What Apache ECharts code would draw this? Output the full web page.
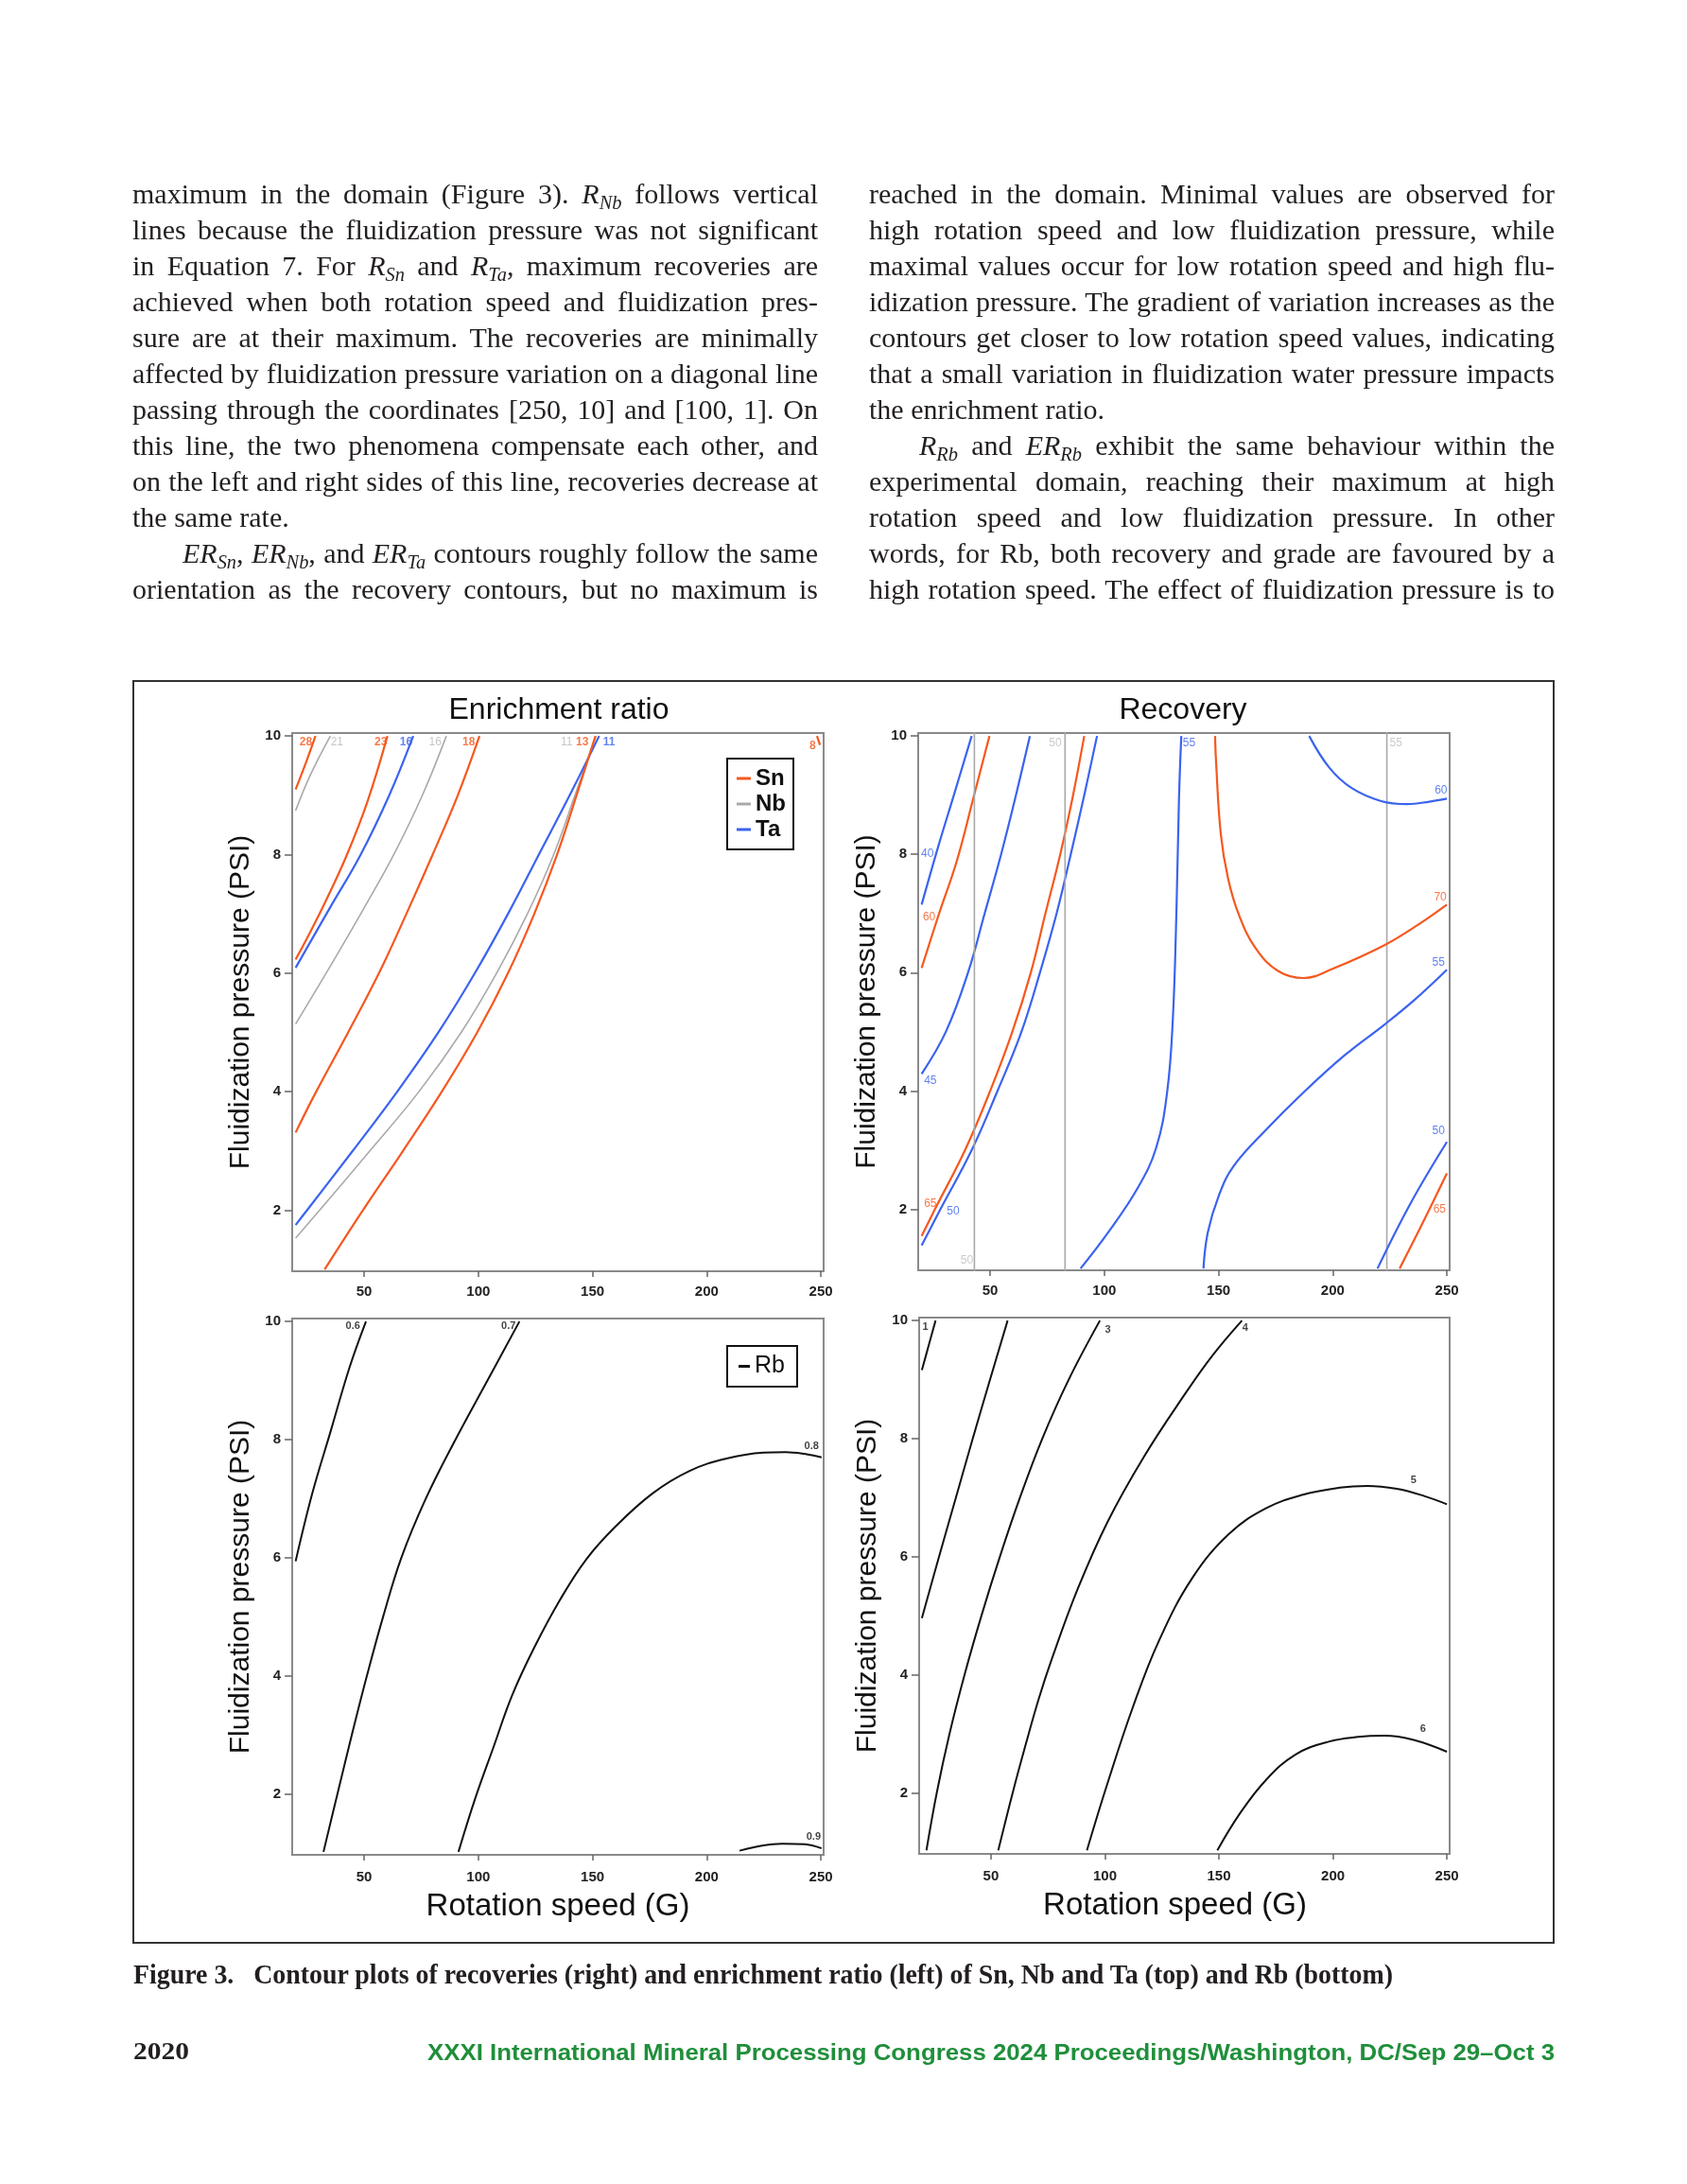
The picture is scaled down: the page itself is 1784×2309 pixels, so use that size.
<!DOCTYPE html>
<html><head><meta charset="utf-8"><title>Figure 3 – Contour plots</title>
<script src="https://cdn.jsdelivr.net/npm/echarts@6.0.0/dist/echarts.min.js"></script>
<style>
html,body{margin:0;padding:0;background:#fff}
body{width:1784px;height:2309px;position:relative;overflow:hidden}
#chart{position:absolute;left:0;top:0;width:1784px;height:2309px}
.ln{position:absolute;white-space:nowrap;font-family:"Liberation Serif",serif;font-size:30px;line-height:30px;color:#231f20}
.ln sub{font-size:0.68em;vertical-align:-0.28em;line-height:0}
.fit{position:absolute;white-space:nowrap;transform-origin:0 0}
</style></head><body>
<div id="chart"></div>
<div id="text"></div>
<script>
// ---------------- DATA ----------------
const xTicks = [50, 100, 150, 200, 250];
const yTicks = [2, 4, 6, 8, 10];

// Panel 1: Enrichment ratio (Sn, Nb, Ta)
const erSn28 = [[20,9.1],[24.5,9.55],[28.7,10]];
const erNb21 = [[20,8.74],[26.3,9.33],[35.2,10]];
const erSn23 = [[20,6.23],[26.5,6.7],[33,7.2],[42.5,8],[51.5,8.9],[60.2,10]];
const erTa16 = [[20,6.09],[35,7.1],[48.5,8],[61,9],[71.5,10]];
const erNb16 = [[20,5.14],[36,6.17],[50,7.1],[63,8],[75.5,9],[86,10]];
const erSn18 = [[20,3.31],[29,4],[43,5],[56.5,6],[68.5,7],[80,8],[91,9],[100.5,10]];
const erTa11 = [[20,1.75],[25,2],[45,3],[64.5,4],[82.5,5],[98.5,6],[113,7],[126.5,8],[140,9],[152.9,10]];
const erNb11 = [[20,1.53],[30.5,2],[52.5,3],[74,4],[92.5,5],[108,6],[121.5,7],[133,8],[142.3,9],[151.5,10]];
const erSn13 = [[32.7,1],[49.5,2],[67,3],[84,4],[99.5,5],[113,6],[124.5,7],[134.5,8],[143,9],[151.3,10]];
const erSn8  = [[248.3,10],[249.6,9.85]];
const erLabSn = [[24.5,9.89,'28'],[57.3,9.89,'23'],[95.8,9.89,'18'],[145.5,9.89,'13'],[246.4,9.83,'8']];
const erLabNb = [[38.1,9.89,'21'],[81.1,9.89,'16'],[138.7,9.89,'11']];
const erLabTa = [[68.4,9.89,'16'],[157.2,9.89,'11']];

// Panel 2: Recovery (Sn, Nb, Ta)
const recTa40  = [[20,7.15],[27.4,8.15],[33.8,8.96],[41.9,10]];
const recSn60  = [[20,6.08],[27.4,6.97],[35.5,7.9],[42.7,8.96],[49.7,10]];
const recTa45  = [[20,4.29],[30.6,5],[40.3,6],[47.6,7],[54.8,8],[61.3,9],[67.4,10]];
const recSn65a = [[20,1.55],[25.8,2],[39,3],[50,4],[59.7,5],[67.8,6],[74.2,7],[80.7,8],[86.3,9],[91.2,10]];
const recTa50a = [[20,1.39],[28.2,2],[41.9,3],[53.2,4],[63.7,5],[71.8,6],[79.1,7],[85.3,8],[91.2,9],[96.8,10]];
const recNb50a = [[43.1,0.9],[43.1,10.1]];
const recNb50b = [[82.8,0.9],[82.8,10.1]];
const recNb55  = [[223.7,0.9],[223.7,10.1]];
const recTa55a = [[89.6,1],[101.7,1.61],[114.6,2.36],[122.7,3.04],[127.5,3.98],[130,5.22],[131.6,7.09],[132.7,8.96],[133.7,10]];
const recSn70  = [[148.5,10],[148.9,9.58],[151,8.34],[154.2,7.59],[159,6.97],[166.3,6.41],[176,6.03],[187.3,5.91],[200.2,6.07],[222.9,6.47],[237.4,6.81],[250,7.15]];
const recTa60  = [[189.7,10],[198.6,9.46],[208.3,9.12],[221.2,8.9],[232.6,8.85],[242.3,8.89],[250,8.94]];
const recTa55b = [[143.4,1],[145.3,1.61],[150.2,2.24],[156.6,2.73],[171.2,3.36],[187.3,3.98],[205.1,4.6],[222.9,5.13],[235.8,5.54],[250,6.05]];
const recTa50b = [[219.6,1],[234.2,2.11],[250,3.14]];
const recSn65b = [[229.3,1],[239,1.74],[250,2.61]];
const recLabTa = [[22.5,8.01,'40'],[23.8,4.18,'45'],[33.8,1.96,'50'],[137.1,9.88,'55'],[247.4,9.08,'60'],[246.3,6.17,'55'],[246.3,3.33,'50']];
const recLabSn = [[23.3,6.94,'60'],[23.8,2.09,'65'],[247.1,7.28,'70'],[246.8,2.0,'65']];
const recLabNb = [[39.8,1.13,'50'],[78.5,9.88,'50'],[227.7,9.88,'55']];

// Panel 3: Enrichment ratio (Rb)
const erRb06 = [[20,5.94],[27.3,7.09],[35.4,8.15],[43.5,9.21],[50.8,10]];
const erRb07 = [[32.2,1.02],[38.3,2],[44.6,3],[51.2,4],[58.3,5],[66.3,6],[77,7],[90,8],[104,9],[118,10]];
const erRb08 = [[91.3,1.02],[98.6,1.92],[106.7,2.8],[114.8,3.67],[124.5,4.48],[135.8,5.29],[147.2,5.97],[160.1,6.53],[176.3,7.09],[192.5,7.47],[208.7,7.68],[224.9,7.78],[234.6,7.79],[242.7,7.76],[250.3,7.7]];
const erRb09 = [[214.4,1.04],[224.9,1.13],[233,1.16],[242.7,1.15],[250.3,1.08]];
const erLabRb = [[45.1,9.93,'0.6'],[113.2,9.93,'0.7'],[245.9,7.89,'0.8'],[246.8,1.27,'0.9']];

// Panel 4: Recovery (Rb)
const recRb1 = [[19.7,9.16],[22.7,9.58],[25.7,10]];
const recRb2 = [[19.7,4.96],[27.2,6],[34.6,7],[42,8],[49.6,9],[57.3,10]];
const recRb3 = [[21.7,1.03],[26.2,2],[31.8,3],[38.4,4],[45.8,5],[53.9,6],[62.7,7],[72.5,8],[84.1,9],[97.8,10]];
const recRb4 = [[53.2,1.03],[59.5,2],[65.3,2.83],[71,3.6],[76.7,4.27],[88,5.45],[101,6.58],[117.2,7.7],[135,8.75],[147,9.4],[160.1,10]];
const recRb5 = [[92.1,1.03],[101,2.15],[112.3,3.46],[123.7,4.58],[138.3,5.64],[154.5,6.39],[170.6,6.82],[186.8,7.05],[203,7.17],[215,7.2],[228,7.15],[240,7.03],[250,6.89]];
const recRb6 = [[149.3,1.03],[159.3,1.66],[170.6,2.22],[183.5,2.65],[198.1,2.87],[211.1,2.95],[222.5,2.97],[235.4,2.9],[250,2.7]];
const recLabRb = [[21.2,9.89,'1'],[101.3,9.84,'3'],[161.5,9.88,'4'],[235.4,7.3,'5'],[239.5,3.08,'6']];

// ---------------- TEXT ----------------
const leftCol = [
 ['maximum in the domain (Figure 3). <i>R<sub>Nb</sub></i> follows vertical',1,0],
 ['lines because the fluidization pressure was not significant',1,0],
 ['in Equation 7. For <i>R<sub>Sn</sub></i> and <i>R<sub>Ta</sub></i>, maximum recoveries are',1,0],
 ['achieved when both rotation speed and fluidization pres-',1,0],
 ['sure are at their maximum. The recoveries are minimally',1,0],
 ['affected by fluidization pressure variation on a diagonal line',1,0],
 ['passing through the coordinates [250, 10] and [100, 1]. On',1,0],
 ['this line, the two phenomena compensate each other, and',1,0],
 ['on the left and right sides of this line, recoveries decrease at',1,0],
 ['the same rate.',0,0],
 ['<i>ER<sub>Sn</sub></i>, <i>ER<sub>Nb</sub></i>, and <i>ER<sub>Ta</sub></i> contours roughly follow the same',1,53],
 ['orientation as the recovery contours, but no maximum is',1,0]
];
const rightCol = [
 ['reached in the domain. Minimal values are observed for',1,0],
 ['high rotation speed and low fluidization pressure, while',1,0],
 ['maximal values occur for low rotation speed and high flu-',1,0],
 ['idization pressure. The gradient of variation increases as the',1,0],
 ['contours get closer to low rotation speed values, indicating',1,0],
 ['that a small variation in fluidization water pressure impacts',1,0],
 ['the enrichment ratio.',0,0],
 ['<i>R<sub>Rb</sub></i> and <i>ER<sub>Rb</sub></i> exhibit the same behaviour within the',1,53],
 ['experimental domain, reaching their maximum at high',1,0],
 ['rotation speed and low fluidization pressure. In other',1,0],
 ['words, for Rb, both recovery and grade are favoured by a',1,0],
 ['high rotation speed. The effect of fluidization pressure is to',1,0]
];
const captionText = 'Figure 3.\u2002 Contour plots of recoveries (right) and enrichment ratio (left) of Sn, Nb and Ta (top) and Rb (bottom)';
const pageNo = '2020';
const footerText = 'XXXI International Mineral Processing Congress 2024 Proceedings/Washington, DC/Sep 29\u2013Oct 3';

// ---------------- LAYOUT TEXT ----------------
const holder = document.getElementById('text');
function placeCol(lines, x0, width){
  lines.forEach((l, i) => {
    const d = document.createElement('div');
    d.className = 'ln';
    d.innerHTML = l[0];
    d.style.left = (x0 + l[2]) + 'px';
    d.style.top = (215 + 38 * i - 25.1) + 'px';
    holder.appendChild(d);
    if (l[1]) {
      const w = d.getBoundingClientRect().width;
      const n = (d.textContent.match(/ /g) || []).length;
      if (n) d.style.wordSpacing = ((width - l[2] - w) / n) + 'px';
    }
  });
}
placeCol(leftCol, 140, 725);
placeCol(rightCol, 919, 725);

function fitText(txt, left, top, targetW, css){
  const d = document.createElement('div');
  d.className = 'fit';
  d.textContent = txt;
  Object.assign(d.style, css, {left: left + 'px', top: top + 'px'});
  holder.appendChild(d);
  const w = d.getBoundingClientRect().width;
  d.style.transform = 'scaleX(' + (targetW / w) + ')';
}
fitText(captionText, 141, 2097 - 24.3, 1332, {fontFamily:'"Liberation Serif",serif', fontWeight:'bold', fontSize:'29px', lineHeight:'29px', color:'#231f20'});
fitText(pageNo, 141, 2178 - 21.8, 59, {fontFamily:'"Liberation Serif",serif', fontWeight:'bold', fontSize:'26px', lineHeight:'26px', color:'#231f20'});
fitText(footerText, 452, 2178 - 19.5, 1192, {fontFamily:'"Liberation Sans",sans-serif', fontWeight:'bold', fontSize:'23px', lineHeight:'23px', color:'#1f8f3a'});

// ---------------- CHART ----------------
const COL = {Sn:'#f5581f', Nb:'#a9a9a9', Ta:'#3b63ef', Rb:'#111111'};
const LW = {Sn:2.2, Nb:1.6, Ta:2.2, Rb:2};
const XR = [18.5, 251.2], YR = [0.97, 10.05];
const FONT = '"Liberation Sans", Arial, sans-serif';
const grids = [
  {left:309, top:775, width:562, height:569},
  {left:971, top:775, width:562, height:568},
  {left:309, top:1394, width:562, height:567},
  {left:972, top:1393, width:561, height:567}
].map(g => Object.assign(g, {show:true, borderColor:'#8a8a8a', borderWidth:2, backgroundColor:'#fff'}));

function xAx(gi, bottom, shift){
  const a = {type:'value', gridIndex:gi, min:XR[0], max:XR[1],
    axisLine:{show:false}, splitLine:{show:false},
    axisTick:{show:true, length:6, customValues:xTicks, lineStyle:{color:'#666', width:1.5}},
    axisLabel:{customValues:xTicks, margin: bottom ? 16 : 14, fontSize:15, fontWeight:'bold', color:'#222', fontFamily:FONT}};
  if (bottom) {
    a.name = 'Rotation speed (G)'; a.nameLocation = 'middle'; a.nameGap = 38;
    a.nameTextStyle = {fontSize:33, color:'#111', fontFamily:FONT, padding: shift ? [0, shift, 0, 0] : 0};
  }
  return a;
}
function yAx(gi){
  return {type:'value', gridIndex:gi, min:YR[0], max:YR[1],
    axisLine:{show:false}, splitLine:{show:false},
    axisTick:{show:true, length:8, customValues:yTicks, lineStyle:{color:'#666', width:1.5}},
    axisLabel:{customValues:yTicks, margin:12, fontSize:15, fontWeight:'bold', color:'#222', fontFamily:FONT},
    name:'Fluidization pressure (PSI)', nameLocation:'middle', nameGap:39,
    nameTextStyle:{fontSize:30, color:'#111', fontFamily:FONT}};
}
function line(name, data, gi){
  return {type:'line', name, data, xAxisIndex:gi, yAxisIndex:gi, symbol:'none', showSymbol:false,
    smooth:0.4, clip:true, silent:true, animation:false, z:3,
    lineStyle:{color:COL[name], width:LW[name]}, itemStyle:{color:COL[name]}, emphasis:{disabled:true}};
}
function labels(key, data, gi, color, size, weight){
  return {type:'scatter', name:key + ' labels', data, xAxisIndex:gi, yAxisIndex:gi,
    symbolSize:1, itemStyle:{color:'rgba(0,0,0,0)'}, silent:true, animation:false, z:6,
    label:{show:true, position:'inside', formatter:p => p.data[2], color, fontSize:size, fontWeight:weight, fontFamily:FONT},
    emphasis:{disabled:true}};
}
const series = [];
[['Sn',erSn28],['Nb',erNb21],['Sn',erSn23],['Ta',erTa16],['Nb',erNb16],['Sn',erSn18],['Nb',erNb11],['Ta',erTa11],['Sn',erSn13],['Sn',erSn8]]
  .forEach(s => series.push(line(s[0], s[1], 0)));
series.push(labels('Sn', erLabSn, 0, COL.Sn, 12, 'bold'));
series.push(labels('Nb', erLabNb, 0, '#b8b8b8', 12, 'normal'));
series.push(labels('Ta', erLabTa, 0, COL.Ta, 12, 'bold'));

[['Ta',recTa40],['Sn',recSn60],['Ta',recTa45],['Sn',recSn65a],['Ta',recTa50a],['Nb',recNb50a],['Nb',recNb50b],['Nb',recNb55],
 ['Ta',recTa55a],['Sn',recSn70],['Ta',recTa60],['Ta',recTa55b],['Ta',recTa50b],['Sn',recSn65b]]
  .forEach(s => series.push(line(s[0], s[1], 1)));
series.push(labels('Ta', recLabTa, 1, COL.Ta, 12, 'normal'));
series.push(labels('Sn', recLabSn, 1, COL.Sn, 12, 'normal'));
series.push(labels('Nb', recLabNb, 1, '#bdbdbd', 12, 'normal'));

[erRb06, erRb07, erRb08, erRb09].forEach(d => series.push(line('Rb', d, 2)));
series.push(labels('Rb', erLabRb, 2, '#111', 11, 'bold'));
[recRb1, recRb2, recRb3, recRb4, recRb5, recRb6].forEach(d => series.push(line('Rb', d, 3)));
series.push(labels('Rb', recLabRb, 3, '#111', 11, 'bold'));

const option = {
  animation:false,
  backgroundColor:'transparent',
  grid: grids,
  xAxis: [xAx(0,false), xAx(1,false), xAx(2,true), xAx(3,true,20)],
  yAxis: [yAx(0), yAx(1), yAx(2), yAx(3)],
  legend: [
    {data:['Sn','Nb','Ta'], left:769, top:802, orient:'vertical', icon:'rect', itemWidth:15, itemHeight:3, itemGap:3,
     padding:[9,8,9,10], borderColor:'#111', borderWidth:2, backgroundColor:'#fff', selectedMode:false,
     textStyle:{fontSize:24, fontWeight:'bold', color:'#111', fontFamily:FONT}},
    {data:['Rb'], left:769, top:1423, orient:'vertical', icon:'rect', itemWidth:12, itemHeight:3,
     padding:[9,13,9,12], borderColor:'#111', borderWidth:2, backgroundColor:'#fff', selectedMode:false,
     textStyle:{fontSize:25, color:'#111', fontFamily:FONT}}
  ],
  graphic: [
    {type:'rect', shape:{x:141, y:720, width:1502, height:1334}, style:{fill:'none', stroke:'#333', lineWidth:2}, silent:true, z:0},
    {type:'text', x:591, y:751, style:{text:'Enrichment ratio', fill:'#111', font:'32px ' + FONT, align:'center', verticalAlign:'middle'}, silent:true},
    {type:'text', x:1251, y:751, style:{text:'Recovery', fill:'#111', font:'32px ' + FONT, align:'center', verticalAlign:'middle'}, silent:true}
  ],
  series
};
const chart = echarts.init(document.getElementById('chart'), null, {renderer:'canvas'});
chart.setOption(option);
</script>
</body></html>
